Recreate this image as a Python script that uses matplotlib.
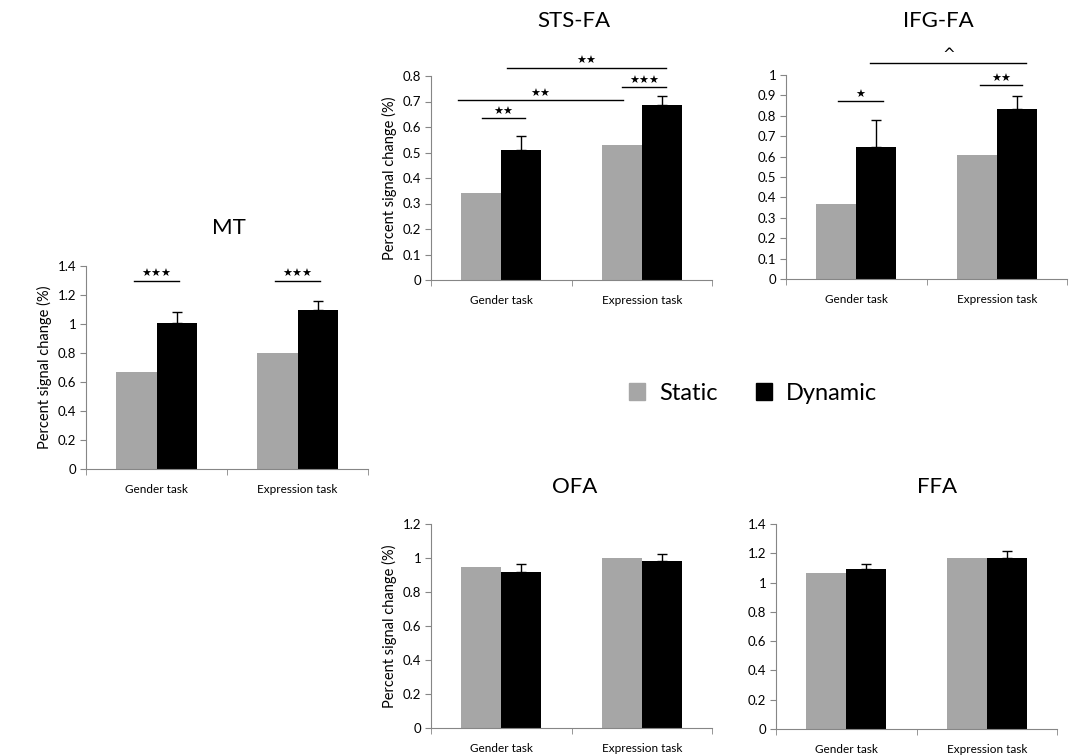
import numpy as np
import matplotlib
matplotlib.use("Agg")
import matplotlib.pyplot as plt
from matplotlib.patches import Patch

plt.rcParams['font.family'] = ['Lato', 'DejaVu Sans']

# data
tasks = ["Gender task", "Expression task"]
regions = ["MT", "STS-FA", "IFG-FA", "OFA", "FFA"]
static = {"MT": [0.67, 0.80], "STS-FA": [0.34, 0.53], "IFG-FA": [0.37, 0.61],
          "OFA": [0.945, 1.0], "FFA": [1.065, 1.165]}
dynamic = {"MT": [1.005, 1.10], "STS-FA": [0.508, 0.687], "IFG-FA": [0.645, 0.835],
           "OFA": [0.92, 0.98], "FFA": [1.09, 1.168]}
dyn_err = {"MT": [0.075, 0.06], "STS-FA": [0.057, 0.035], "IFG-FA": [0.135, 0.06],
           "OFA": [0.045, 0.046], "FFA": [0.037, 0.046]}
ymax = {"MT": 1.4, "STS-FA": 0.8, "IFG-FA": 1.0, "OFA": 1.2, "FFA": 1.4}
ystep = {"MT": 0.2, "STS-FA": 0.1, "IFG-FA": 0.1, "OFA": 0.2, "FFA": 0.2}
# significance markers: (x start, x end, y, label)
sig = {"MT": [(-0.16, 0.16, 1.30, "★★★"), (0.84, 1.16, 1.30, "★★★")],
       "STS-FA": [(-0.14, 0.17, 0.634, "★★"), (-0.31, 0.87, 0.706, "★★"),
                  (0.86, 1.17, 0.756, "★★★"), (0.04, 1.17, 0.833, "★★")],
       "IFG-FA": [(-0.13, 0.19, 0.874, "★"), (0.88, 1.18, 0.951, "★★"),
                  (0.10, 1.21, 1.06, "^")]}

# axes boxes in pixels: left, right, bottom, top
W, H = 1073, 756
boxes = {"MT": (86, 368, 469, 266), "STS-FA": (431, 712, 280, 76),
         "IFG-FA": (786, 1067, 279, 75), "OFA": (431, 712, 728, 524),
         "FFA": (776, 1057, 729, 524)}
title_pos = {"MT": (229, 228), "STS-FA": (574, 21), "IFG-FA": (938, 21),
             "OFA": (575, 487), "FFA": (937, 487)}
with_ylabel = ["MT", "STS-FA", "OFA"]

gray = "#a6a6a6"
axcol = "#868686"
bw = 0.285

fig = plt.figure(figsize=(W / 100, H / 100), dpi=100)

for r in regions:
    l, rt, b, t = boxes[r]
    ax = fig.add_axes([l / W, 1 - b / H, (rt - l) / W, (b - t) / H])
    x = np.arange(len(tasks))
    ax.bar(x - bw / 2, static[r], bw, color=gray, zorder=2)
    ax.bar(x + bw / 2, dynamic[r], bw, color="black", zorder=2)
    err = np.array([np.zeros(len(tasks)), dyn_err[r]])
    ax.errorbar(x + bw / 2, dynamic[r], yerr=err, fmt="none", ecolor="black",
                elinewidth=1, capsize=3.5, capthick=1, zorder=3)
    ax.set_xlim(-0.5, 1.5)
    ax.set_ylim(0, ymax[r])
    yt = np.round(np.arange(0, ymax[r] + 1e-9, ystep[r]), 1)
    ax.set_yticks(yt)
    ax.set_yticklabels(["%g" % v for v in yt], fontsize=9.5)
    ax.set_xticks(x)
    ax.set_xticklabels(tasks, fontsize=8.5)
    ax.tick_params(axis="x", length=0, pad=11)
    ax.set_xticks([-0.5, 0.5, 1.5], minor=True)
    ax.tick_params(axis="x", which="minor", length=4, color=axcol, direction="out")
    ax.tick_params(axis="y", length=4, color=axcol, pad=3)
    for s in ["top", "right"]:
        ax.spines[s].set_visible(False)
    for s in ["left", "bottom"]:
        ax.spines[s].set_color(axcol)
    if r in with_ylabel:
        ax.set_ylabel("Percent signal change (%)", fontsize=10.5, labelpad=4)
    for x0, x1, yv, lab in sig.get(r, []):
        ax.plot([x0, x1], [yv, yv], color="black", lw=1, clip_on=False)
        ax.text((x0 + x1) / 2, yv + ymax[r] * 0.006, lab, ha="center", va="bottom",
                fontsize=8 if lab != "^" else 11, family=["DejaVu Sans"])
    tx, ty = title_pos[r]
    fig.text(tx / W, 1 - ty / H, r, ha="center", va="center", fontsize=16)

handles = [Patch(color=gray, label="Static"), Patch(color="black", label="Dynamic")]
fig.legend(handles=handles, loc="center", bbox_to_anchor=(753 / W, 1 - 393 / H),
           ncol=2, frameon=False, fontsize=17, handlelength=0.7, handleheight=0.7,
           columnspacing=1.6, handletextpad=0.6)

fig.savefig("out.png", dpi=100)
